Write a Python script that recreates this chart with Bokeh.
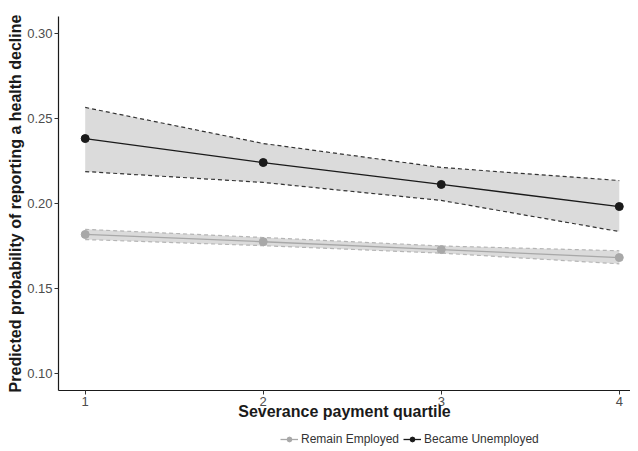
from bokeh.plotting import figure
from bokeh.models import Range1d, Legend, LegendItem, FixedTicker, ColumnDataSource
from bokeh.layouts import column
from bokeh.embed import file_html
from bokeh.resources import INLINE

quartiles = [1, 2, 3, 4]
tick_labels = {1: "1", 2: "2", 3: "3", 4: "4"}

unemp_fit = [0.2382, 0.2241, 0.2112, 0.1982]
unemp_upper = [0.2565, 0.2353, 0.2212, 0.2135]
unemp_lower = [0.2188, 0.2124, 0.2018, 0.1835]

emp_fit = [0.1818, 0.1775, 0.1729, 0.1682]
emp_upper = [0.1848, 0.1800, 0.1750, 0.1722]
emp_lower = [0.1788, 0.1752, 0.1708, 0.1645]

series_names = ["Remain Employed", "Became Unemployed"]

FONT = "Liberation Sans"
EMP_COL = "#a8a8a8"
UNEMP_COL = "#1a1a1a"

p = figure(width=630, height=428, output_backend="svg", toolbar_location=None,
           x_range=Range1d(0.85, 4.063), y_range=Range1d(0.09, 0.31))
p.min_border_left = 58
p.min_border_right = 0
p.min_border_top = 16
p.min_border_bottom = 38
p.outline_line_color = None
p.grid.visible = False
p.background_fill_color = "white"

emp_src = ColumnDataSource(dict(x=quartiles, y=emp_fit, lo=emp_lower, hi=emp_upper))
unemp_src = ColumnDataSource(dict(x=quartiles, y=unemp_fit, lo=unemp_lower, hi=unemp_upper))

# bands
p.varea(x="x", y1="lo", y2="hi", source=unemp_src, fill_color="#bdbdbd", fill_alpha=0.55)
p.line("x", "hi", source=unemp_src, line_color="#333333", line_dash="4 3", line_width=1.2)
p.line("x", "lo", source=unemp_src, line_color="#333333", line_dash="4 3", line_width=1.2)

p.varea(x="x", y1="lo", y2="hi", source=emp_src, fill_color="#bdbdbd", fill_alpha=0.55)
p.line("x", "hi", source=emp_src, line_color="#b5b5b5", line_dash="4 3", line_width=1.2)
p.line("x", "lo", source=emp_src, line_color="#b5b5b5", line_dash="4 3", line_width=1.2)

# fitted lines and points
p.line("x", "y", source=emp_src, line_color=EMP_COL, line_width=1.3)
p.scatter("x", "y", source=emp_src, size=8, fill_color=EMP_COL, line_color=EMP_COL)
p.line("x", "y", source=unemp_src, line_color=UNEMP_COL, line_width=1.3)
p.scatter("x", "y", source=unemp_src, size=8, fill_color=UNEMP_COL, line_color=UNEMP_COL)

# axes
p.xaxis.ticker = FixedTicker(ticks=quartiles)
p.xaxis.major_label_overrides = tick_labels
p.yaxis.ticker = FixedTicker(ticks=[0.10, 0.15, 0.20, 0.25, 0.30])
p.yaxis.major_label_overrides = {0.10: "0.10", 0.15: "0.15", 0.20: "0.20", 0.25: "0.25", 0.30: "0.30"}
for ax in (p.xaxis[0], p.yaxis[0]):
    ax.axis_line_color = "#1a1a1a"
    ax.axis_line_width = 1.2
    ax.major_tick_line_color = "#333333"
    ax.major_tick_in = 0
    ax.major_tick_out = 4
    ax.minor_tick_line_color = None
    ax.major_label_text_font = FONT
    ax.major_label_text_font_size = "13px"
    ax.major_label_text_color = "#4d4d4d"
    ax.axis_label_text_font = FONT
    ax.axis_label_text_font_style = "bold"
    ax.axis_label_text_font_size = "16px"
    ax.axis_label_text_color = "#1a1a1a"
p.xaxis.axis_label = "Severance payment quartile"
p.yaxis.axis_label = "Predicted probability of reporting a health decline"
p.xaxis.major_label_standoff = 2
p.xaxis.axis_label_standoff = -6
p.yaxis.major_label_standoff = 2
p.yaxis.axis_label_standoff = 0

# legend strip: a small figure whose ranges keep the series out of view,
# so only the legend entries are drawn
lg = figure(width=630, height=18, output_backend="svg", toolbar_location=None,
            x_range=Range1d(0, 1), y_range=Range1d(10, 11),
            x_axis_type=None, y_axis_type=None)
lg.min_border_left = 0
lg.min_border_right = 0
lg.min_border_top = 0
lg.min_border_bottom = 0
lg.outline_line_color = None
lg.grid.visible = False
le_line = lg.line("x", "y", source=emp_src, line_color=EMP_COL, line_width=1.3)
le_pt = lg.scatter("x", "y", source=emp_src, size=6, fill_color=EMP_COL, line_color=EMP_COL)
lu_line = lg.line("x", "y", source=unemp_src, line_color=UNEMP_COL, line_width=1.3)
lu_pt = lg.scatter("x", "y", source=unemp_src, size=6, fill_color=UNEMP_COL, line_color=UNEMP_COL)

legend = Legend(items=[
    LegendItem(label=series_names[0], renderers=[le_line, le_pt]),
    LegendItem(label=series_names[1], renderers=[lu_line, lu_pt]),
], orientation="horizontal", location=(222, 0))
legend.label_text_font = FONT
legend.label_text_font_size = "12px"
legend.label_text_color = "#333333"
legend.glyph_width = 18
legend.glyph_height = 12
legend.spacing = 4
legend.label_standoff = 3
legend.padding = 2
legend.margin = 0
legend.border_line_color = None
legend.background_fill_alpha = 0
lg.add_layout(legend, "center")

layout = column(p, lg, spacing=0)
open("out.html", "w").write(file_html(layout, INLINE))
